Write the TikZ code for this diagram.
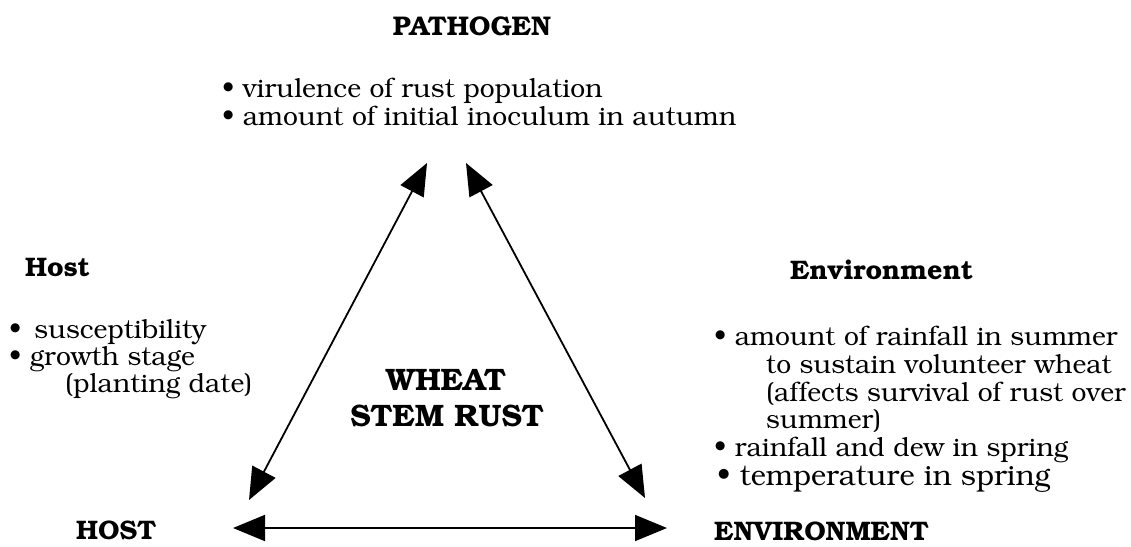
\documentclass[tikz,border=0pt]{standalone}
\usepackage[T1]{fontenc}
\usepackage{bookman}
\usetikzlibrary{arrows.meta}
\begin{document}
\begin{tikzpicture}[x=1pt,y=-1pt,
  txt/.style={inner sep=0pt, anchor=base west, font=\fontsize{26.5}{28}\selectfont},
  txtbig/.style={inner sep=0pt, anchor=base west, font=\fontsize{29}{30}\selectfont},
  headw/.style={inner sep=0pt, anchor=base west, font=\fontsize{26.8}{28}\selectfont\bfseries},
  headc/.style={inner sep=0pt, anchor=base, font=\fontsize{27}{28}\selectfont\bfseries},
  big/.style={inner sep=0pt, anchor=base, font=\fontsize{31}{34}\selectfont\bfseries},
  conn/.style={line width=1.8pt, {Triangle[length=32pt,width=26pt]}-{Triangle[length=32pt,width=26pt]}}]
\useasboundingbox (0,0) rectangle (1131,546);
% headings
\node[headc] (path) at (472,35) {PATHOGEN};
\node[headw] (hosth) at (25,276) {Host};
\node[headw] (envh) at (790,279) {Environment};
\node[headw] (host) at (76,539) {HOST};
\node[headw] (env) at (714,540) {ENVIRONMENT};
\node[big] (w1) at (446,390) {WHEAT};
\node[big] (w2) at (447,426) {STEM RUST};
% pathogen factors
\node[txt] (p1) at (222,97) {\textbullet\ virulence of rust population};
\node[txt] (p2) at (222,125) {\textbullet\ amount of initial inoculum in autumn};
% host factors
\node[txt] (h1) at (9,338) {\textbullet\ \,susceptibility};
\node[txt] (h2) at (9,365) {\textbullet\ growth stage};
\node[txt] (h3) at (65,392) {(planting date)};
% environment factors
\node[txt] (e1) at (714,345) {\textbullet\ amount of rainfall in summer};
\node[txt] (e2) at (766,373) {to sustain volunteer wheat};
\node[txt] (e3) at (766,401) {(affects survival of rust over};
\node[txt] (e4) at (766,428) {summer)};
\node[txt] (e5) at (714,456) {\textbullet\ rainfall and dew in spring};
\node[txtbig] (e6) at (717,485) {\textbullet\ temperature in spring};
% connectors
\coordinate (pL) at (427,163);
\coordinate (hT) at (249,500);
\coordinate (pR) at (466,163);
\coordinate (eT) at (645,498);
\coordinate (hR) at (233,528);
\coordinate (eL) at (667,528);
\draw[conn] (pL) -- (hT);
\draw[conn] (pR) -- (eT);
\draw[conn] (hR) -- (eL);
\end{tikzpicture}
\end{document}
